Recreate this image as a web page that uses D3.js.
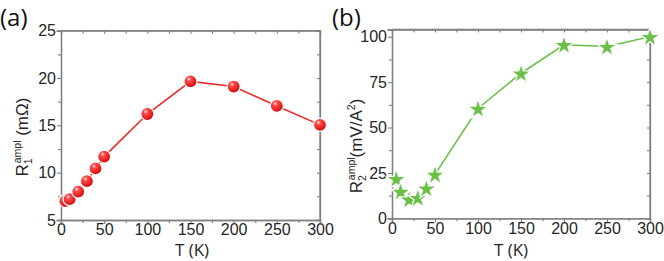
<!DOCTYPE html>
<html><head><meta charset="utf-8">
<script src="https://cdn.jsdelivr.net/npm/d3@7"></script>
<style>body{margin:0;background:#fff}svg{display:block}</style>
</head><body>
<svg id="c" width="664" height="261"></svg>
<script>
const temps = [5, 10, 20, 30, 40, 50, 100, 150, 200, 250, 300];
const r1Values = [7.0, 7.2, 8.0, 9.1, 10.45, 11.7, 16.2, 19.65, 19.1, 17.05, 15.05];
const r2Values = [21.8, 14.8, 10.5, 11.4, 16.6, 24.2, 60.5, 79.9, 95.6, 94.6, 100];
const xTicks = [0, 50, 100, 150, 200, 250, 300];
const yTicksA = [5, 10, 15, 20, 25];
const yTicksB = [0, 25, 50, 75, 100];

const svg = d3.select("#c");
const defs = svg.append("defs");
const grad = defs.append("radialGradient").attr("id","ball").attr("cx","0.38").attr("cy","0.32").attr("r","0.7");
grad.append("stop").attr("offset","0").attr("stop-color","#ffe6e6");
grad.append("stop").attr("offset","0.25").attr("stop-color","#ff4a4a");
grad.append("stop").attr("offset","0.8").attr("stop-color","#e01616");
grad.append("stop").attr("offset","1").attr("stop-color","#b80a0a");

const axisColor = "#808080";
const textColor = "#262626";

function panel(o){
  const g = svg.append("g");
  const x = d3.scaleLinear().domain([0,300]).range([o.left,o.right]);
  const y = d3.scaleLinear().domain(o.yDomain).range([o.bottom,o.top]);
  g.append("path").attr("d",`M${o.left},${o.top}H${o.right}V${o.bottom}`).attr("fill","none")
    .attr("stroke",axisColor).attr("stroke-width",1.3);
  g.append("g").attr("transform",`translate(0,${o.bottom})`)
    .call(d3.axisBottom(x).tickValues(xTicks).tickSize(4).tickPadding(0).tickFormat(d3.format("d")));
  g.append("g").attr("transform",`translate(0,${o.bottom})`)
    .call(d3.axisBottom(x).tickValues(d3.range(25,300,50)).tickSize(3).tickFormat(""));
  g.append("g").attr("transform",`translate(${o.left},0)`)
    .call(d3.axisLeft(y).tickValues(o.yTicks).tickSize(4).tickPadding(1).tickFormat(d3.format("d")));
  g.append("g").attr("transform",`translate(${o.left},0)`)
    .call(d3.axisLeft(y).tickValues(o.yMinor).tickSize(3).tickFormat(""));
  g.append("g").attr("transform",`translate(0,${o.top})`)
    .call(d3.axisTop(x).tickValues(d3.range(0,301,25)).tickSize(-3).tickFormat(""));
  g.append("g").attr("transform",`translate(${o.right},0)`)
    .call(d3.axisRight(y).tickValues(o.yAll).tickSize(-3).tickFormat(""));
  g.selectAll(".domain").attr("stroke",axisColor).attr("stroke-width",1.3).attr("stroke-linecap","square");
  g.selectAll(".tick line").attr("stroke",axisColor).attr("stroke-width",1.1);
  g.selectAll(".tick text").attr("fill",textColor).style("font-family","'Liberation Sans',Arial,sans-serif").style("font-size","16px");
  const line = d3.line().x((d,i)=>x(temps[i])).y(d=>y(d));
  g.append("path").datum(o.values).attr("d",line).attr("fill","none")
    .attr("stroke",o.lineColor).attr("stroke-width",1.6);
  o.marker(g, x, y);
  g.append("text").attr("x",o.labelX).attr("y",26).text(o.label)
    .style("font-family","'Open Sans',sans-serif").style("font-size","24px").attr("fill","#111");
  g.append("text").attr("x",o.xTitleX).attr("y",256).attr("text-anchor","middle").text("T (K)")
    .style("font-family","'Open Sans',sans-serif").style("font-size","17px").attr("fill",textColor);
  return {x,y,g};
}

panel({left:61,right:320,top:30.7,bottom:220,yDomain:[5,25],yTicks:yTicksA,
  yMinor:[7.5,12.5,17.5,22.5],yAll:d3.range(5,25.1,2.5),values:r1Values,lineColor:"#ec2a2a",
  label:"(a)",labelX:0,xTitleX:192,
  marker:(g,x,y)=>{
    g.selectAll("circle.m").data(r1Values).join("circle").attr("class","m")
      .attr("cx",(d,i)=>x(temps[i])).attr("cy",d=>y(d)).attr("r",6.5)
      .attr("fill","url(#ball)").attr("stroke","#fff").attr("stroke-width",1.2);
  }});

const star = d3.symbol().type(d3.symbolStar).size(125);
panel({left:392,right:650,top:29.5,bottom:218.3,yDomain:[0,104],yTicks:yTicksB,
  yMinor:[12.5,37.5,62.5,87.5],yAll:d3.range(0,101,12.5),values:r2Values,lineColor:"#6cc04a",
  label:"(b)",labelX:332,xTitleX:511,
  marker:(g,x,y)=>{
    g.selectAll("path.m").data(r2Values).join("path").attr("class","m")
      .attr("d",star).attr("transform",(d,i)=>`translate(${x(temps[i])},${y(d)+1})`)
      .attr("fill","#6cc04a").attr("stroke","#fff").attr("stroke-width",1.2);
  }});

function yTitle(cx, cy, sub, unit, sup2){
  const t = svg.append("text").attr("transform",`translate(${cx},${cy}) rotate(-90)`)
    .attr("text-anchor","middle").style("font-family","'Liberation Sans',Arial,sans-serif")
    .style("font-size","17px").attr("fill",textColor);
  t.append("tspan").text("R");
  t.append("tspan").text(sub).style("font-size","10.5px").attr("dy",4);
  t.append("tspan").text("ampl").style("font-size","10.5px").attr("dx",-5).attr("dy",-11.5);
  t.append("tspan").text(unit).attr("dy",7.5);
  if(sup2){
    t.append("tspan").text("2").style("font-size","10.5px").attr("dy",-7.5);
    t.append("tspan").text(")").attr("dy",7.5);
  }
  return t;
}
yTitle(28, 137, "1", " (mΩ)", false);
yTitle(362, 146, "2", "(mV/A", true);
</script>
</body></html>
